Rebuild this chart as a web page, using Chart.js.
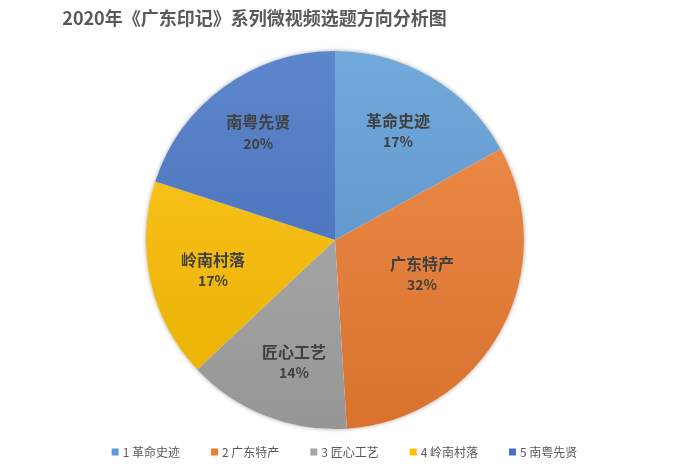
<!DOCTYPE html>
<html>
<head>
<meta charset="utf-8">
<script src="https://cdn.jsdelivr.net/npm/chart.js@4/dist/chart.umd.min.js"></script>
<style>
  html, body { margin: 0; padding: 0; background: #fff; }
  #wrap { width: 689px; height: 467px; }
</style>
</head>
<body>
<div id="wrap"><canvas id="pie"></canvas></div>
<script>
// data
const titleText = '2020年《广东印记》系列微视频选题方向分析图';
const categories = ['革命史迹', '广东特产', '匠心工艺', '岭南村落', '南粤先贤'];
const shares = [17, 32, 14, 17, 20];
const baseColors = ['#5B9BD5', '#ED7D31', '#A5A5A5', '#FFC000', '#4472C4'];

// label placement: fraction of the radius, and a small turn (degrees) off the slice middle
const labelRadius = [0.667, 0.494, 0.68, 0.665, 0.7];
const labelTurn = [-0.6, -7.5, -3, -1.2, 0.5];

const FONT = '"Noto Sans CJK SC", "Noto Sans", sans-serif';

function mix(hex, target, t) {
    const n = parseInt(hex.slice(1), 16);
    const r = (n >> 16) & 255, g = (n >> 8) & 255, b = n & 255;
    const m = c => Math.round(c + (target - c) * t);
    return `rgb(${m(r)},${m(g)},${m(b)})`;
}

function sliceFill(ctx) {
    const chart = ctx.chart;
    const area = chart.chartArea;
    const base = baseColors[ctx.dataIndex];
    if (!area) return base;
    const grad = chart.ctx.createLinearGradient(0, area.top, 0, area.bottom);
    grad.addColorStop(0, mix(base, 255, 0.14));
    grad.addColorStop(1, mix(base, 0, 0.09));
    return grad;
}

const extras = {
    id: 'extras',
    beforeDatasetsDraw(chart) {
        // soft shadow behind the whole pie
        const arc = chart.getDatasetMeta(0).data[0];
        if (!arc) return;
        const c = chart.ctx;
        c.save();
        c.shadowColor = 'rgba(0,0,0,0.35)';
        c.shadowBlur = 4;
        c.fillStyle = '#ffffff';
        c.beginPath();
        c.arc(arc.x, arc.y, arc.outerRadius, 0, Math.PI * 2);
        c.fill();
        c.restore();
    },
    afterDraw(chart) {
        const c = chart.ctx;
        const w = chart.width;
        c.save();

        // title
        c.fillStyle = '#595959';
        c.font = `bold 18px ${FONT}`;
        c.textAlign = 'center';
        c.textBaseline = 'middle';
        c.fillText(titleText, 254.5, 18);

        // data labels
        const meta = chart.getDatasetMeta(0);
        meta.data.forEach((arc, i) => {
            const mid = (arc.startAngle + arc.endAngle) / 2 + labelTurn[i] * Math.PI / 180;
            const r = arc.outerRadius * labelRadius[i];
            const x = arc.x + Math.cos(mid) * r;
            const y = arc.y + Math.sin(mid) * r;
            c.fillStyle = '#404040';
            c.font = `bold 16px ${FONT}`;
            c.fillText(categories[i], x, y - 10);
            c.font = `bold 14px ${FONT}`;
            c.fillText(shares[i] + '%', x, y + 11);
        });

        // legend
        c.font = `12px ${FONT}`;
        c.textAlign = 'left';
        const box = 7, gapBox = 4, gapItem = 31;
        const labels = categories.map((name, i) => (i + 1) + ' ' + name);
        const widths = labels.map(t => box + gapBox + c.measureText(t).width);
        const total = widths.reduce((a, b) => a + b, 0) + gapItem * (labels.length - 1);
        let x = (w - total) / 2;
        const ly = 452;
        labels.forEach((t, i) => {
            c.fillStyle = baseColors[i];
            c.fillRect(x, ly - box / 2, box, box);
            c.fillStyle = '#595959';
            c.fillText(t, x + box + gapBox, ly + 0.5);
            x += widths[i] + gapItem;
        });
        c.restore();
    }
};

new Chart(document.getElementById('pie'), {
    type: 'pie',
    data: {
        labels: categories,
        datasets: [{
            data: shares,
            backgroundColor: sliceFill,
            borderWidth: 0
        }]
    },
    options: {
        responsive: true,
        maintainAspectRatio: false,
        animation: false,
        layout: { padding: { top: 51, bottom: 38, left: 0, right: 19 } },
        plugins: {
            legend: { display: false },
            title: { display: false },
            tooltip: { enabled: false }
        }
    },
    plugins: [extras]
});
</script>
</body>
</html>
